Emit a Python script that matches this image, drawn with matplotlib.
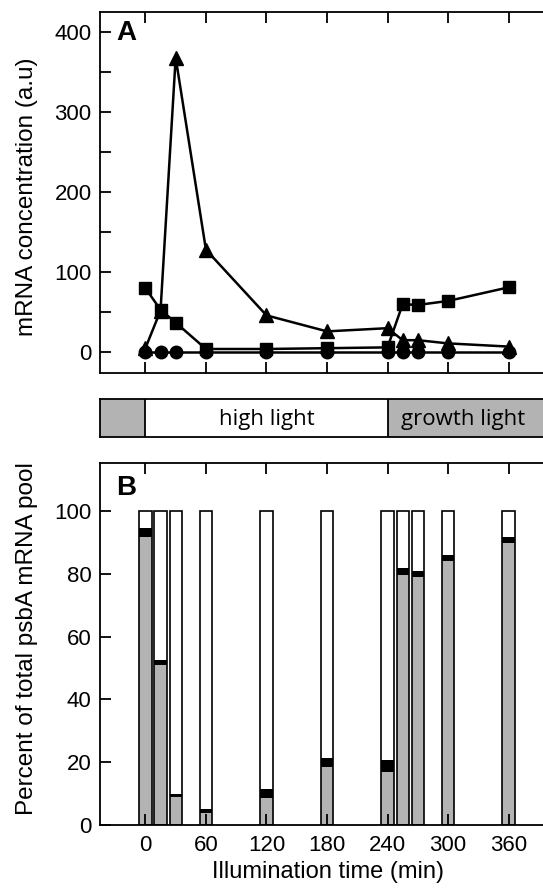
import numpy as np
import matplotlib
matplotlib.use("Agg")
import matplotlib.pyplot as plt

plt.rcParams['font.family'] = ['Liberation Sans', 'DejaVu Sans']

# sampling times (min)
times = [0, 15, 30, 60, 120, 180, 240, 255, 270, 300, 360]

# panel A: mRNA concentration (a.u)
triangles = [5, 52, 368, 128, 46, 26, 30, 15, 15, 11, 7]
squares = [80, 53, 37, 4, 4, 5, 6, 60, 59, 64, 81]
circles = [0, 0, 0, 0, 0, 0, 0, 0, 0, 0, 0]

# panel B: percent of total psbA mRNA pool
gray_part = [91.6, 51.0, 9.0, 3.7, 8.7, 18.4, 17.0, 79.6, 78.9, 84.0, 89.9]
black_part = [2.9, 1.5, 1.0, 1.4, 2.8, 3.0, 3.7, 2.1, 2.0, 2.0, 1.9]

# light regime strip
light_periods = [(-45, 0, 'gray', ''), (0, 240, 'white', 'high light'),
                 (240, 405, 'gray', 'growth light')]

GRAY = '#b3b3b3'
W, H = 543, 890
fig = plt.figure(figsize=(W / 100, H / 100), dpi=100)


def px_axes(left, top, right, bottom):
    return fig.add_axes([left / W, 1 - bottom / H, (right - left) / W, (bottom - top) / H])


def style(ax):
    for s in ax.spines.values():
        s.set_linewidth(1.3)
    ax.tick_params(which='both', direction='in', length=8, width=1.3,
                   top=True, right=True, labelsize=16)
    ax.set_xlim(-45, 405)
    ax.set_xticks(range(0, 361, 60))


# ---- panel A
axA = px_axes(100, 12, 554, 373)
style(axA)
axA.plot(times, triangles, '-^', color='black', lw=1.8, ms=10)
axA.plot(times, squares, '-s', color='black', lw=1.8, ms=9)
axA.plot(times, circles, '-o', color='black', lw=1.8, ms=9)
axA.set_ylim(-26, 425)
axA.set_yticks(range(0, 401, 100))
axA.set_yticks(range(0, 401, 50), minor=True)
axA.tick_params(which='minor', right=False, top=False, bottom=False)
axA.tick_params(axis='x', labelbottom=False)
axA.tick_params(axis='y', pad=6)
axA.text(0.035, 0.978, 'A', transform=axA.transAxes, fontsize=20,
         fontweight='bold', ha='left', va='top')

# ---- light strip
axL = px_axes(100, 399, 554, 437)
for s in axL.spines.values():
    s.set_linewidth(1.3)
axL.set_xlim(-45, 405)
axL.set_ylim(0, 1)
axL.set_xticks([])
axL.set_yticks([])
for start, end, col, label in light_periods:
    axL.axvspan(start, end, color=GRAY if col == 'gray' else 'white', lw=0)
    axL.axvline(end, color='black', lw=1.3)
    if label:
        axL.text((start + end) / 2 - (8 if col == 'gray' else 0), 0.45, label,
                 ha='center', va='center', fontsize=16, family=['Open Sans', 'DejaVu Sans'])

# ---- panel B
axB = px_axes(100, 463, 554, 825)
style(axB)
white_part = [100 - g - b for g, b in zip(gray_part, black_part)]
bw = 12.2
axB.bar(times, gray_part, width=bw, color=GRAY, lw=0)
axB.bar(times, black_part, width=bw, bottom=gray_part, color='black', lw=0)
axB.bar(times, white_part, width=bw,
        bottom=[g + b for g, b in zip(gray_part, black_part)], color='white', lw=0)
axB.bar(times, [100] * len(times), width=bw, fill=False, edgecolor='black', lw=1.2)
axB.set_ylim(0, 115.3)
axB.set_yticks(range(0, 101, 20))
axB.tick_params(axis='y', pad=6)
axB.tick_params(axis='x', pad=7)
axB.text(0.035, 0.968, 'B', transform=axB.transAxes, fontsize=20,
         fontweight='bold', ha='left', va='top')

fig.text(27 / W, 1 - 197 / H, 'mRNA concentration (a.u)', rotation=90,
         ha='center', va='center', fontsize=17.5)
fig.text(27 / W, 1 - 639 / H, 'Percent of total psbA mRNA pool', rotation=90,
         ha='center', va='center', fontsize=17.5)
fig.text(328 / W, 1 - 872 / H, 'Illumination time (min)',
         ha='center', va='center', fontsize=17)

fig.savefig('out.png', dpi=100)
